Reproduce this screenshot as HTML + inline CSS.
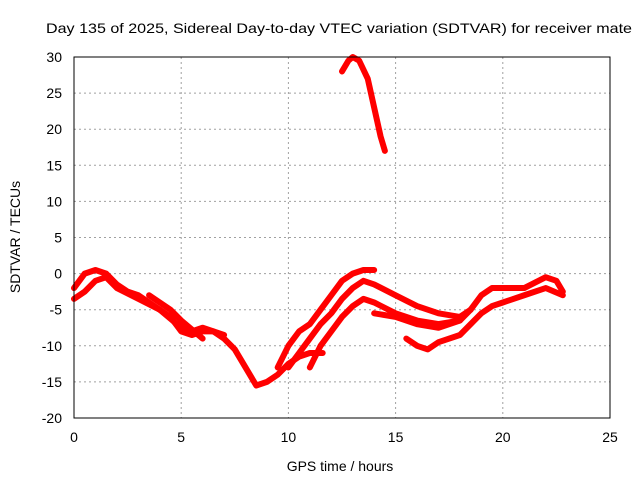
<!DOCTYPE html>
<html><head><meta charset="utf-8"><style>
body{margin:0;background:#fff;}
svg text{font-family:"Liberation Sans",sans-serif;font-size:14px;fill:#000;}
</style></head><body>
<svg id="chart" width="640" height="480">
<rect x="0" y="0" width="640" height="480" fill="#fff"/>
<g id="grid"></g>
<g id="series"></g>
<rect x="74" y="57" width="536" height="361" fill="none" stroke="#000" stroke-width="1"/>
<g id="ticks"></g>
<text x="46" y="33" textLength="586" lengthAdjust="spacingAndGlyphs">Day 135 of 2025, Sidereal Day-to-day VTEC variation (SDTVAR) for receiver mate</text>
<text x="340" y="471" text-anchor="middle">GPS time / hours</text>
<text transform="translate(20,237) rotate(-90)" text-anchor="middle">SDTVAR / TECUs</text>
</svg>
<script>
const xTicks=[0,5,10,15,20,25];
const yTicks=[-20,-15,-10,-5,0,5,10,15,20,25,30];
const trackA=[[0,-3.5],[0.5,-2.5],[1,-1],[1.5,-0.5],[2,-2],[3,-3.5],[4,-5],[4.5,-6],[5,-8],[5.5,-8.5],[6,-8],[6.5,-8],[7,-9],[7.5,-10.5],[8,-13],[8.5,-15.5],[9,-15],[9.5,-14],[10,-12.5],[10.5,-11.5],[11,-11],[11.6,-11]];
const trackB=[[0,-2],[0.5,0],[1,0.5],[1.5,0],[2,-1.5],[2.5,-2.5],[3,-3],[3.5,-4],[4,-5],[5,-7.5],[5.5,-8],[6,-7.5],[6.5,-8],[7,-8.5]];
const trackC=[[3.5,-3],[4.5,-5],[5,-6.5],[6,-9]];
const trackD=[[9.5,-13],[10,-10],[10.5,-8],[11,-7],[11.5,-5],[12,-3],[12.5,-1],[13,0],[13.5,0.5],[14,0.5]];
const trackE=[[10,-13],[10.5,-11],[11,-9],[11.5,-7],[12,-5.5],[12.5,-3.5],[13,-2],[13.5,-1],[14,-1.5],[15,-3],[16,-4.5],[17,-5.5],[18,-6],[18.5,-5]];
const trackF=[[11,-13],[11.5,-10],[12,-8],[12.5,-6],[13,-4.5],[13.5,-3.5],[14,-4],[15,-5.5],[16,-6.5],[17,-7],[18,-6.5],[18.5,-5],[19,-3],[19.5,-2],[20,-2],[21,-2],[22,-0.5],[22.5,-1],[22.8,-2.5]];
const trackG=[[14,-5.5],[15,-6],[16,-7],[17,-7.5],[18,-6.5]];
const trackH=[[15.5,-9],[16,-10],[16.5,-10.5],[17,-9.5],[18,-8.5],[18.5,-7],[19,-5.5],[19.5,-4.5],[20,-4],[21,-3],[22,-2],[22.8,-3]];
const trackTop=[[12.5,28],[12.8,29.5],[13,30],[13.3,29.5],[13.7,27],[14,23],[14.3,19],[14.5,17]];
const tracks=[trackA,trackB,trackC,trackD,trackE,trackF,trackG,trackH,trackTop];
const X=v=>74+v*(536/25), Y=v=>418-(v+20)*(361/50);
const NS='http://www.w3.org/2000/svg';
const grid=document.getElementById('grid'),ticks=document.getElementById('ticks'),ser=document.getElementById('series');
function mk(t,a,p){const e=document.createElementNS(NS,t);for(const k in a)e.setAttribute(k,a[k]);p.appendChild(e);return e;}
xTicks.forEach(v=>{
 if(v>0&&v<25){const l=mk('line',{x1:X(v),x2:X(v),y1:57,y2:418,stroke:'#a0a0a0','stroke-dasharray':'2,3'},grid);
 
 }
 const t=mk('text',{x:X(v),y:442,'text-anchor':'middle'},ticks);t.textContent=v;
 
 
});
yTicks.forEach(v=>{
 if(v>-20&&v<30){const l=mk('line',{x1:74,x2:610,y1:Y(v),y2:Y(v),stroke:'#a0a0a0','stroke-dasharray':'2,3'},grid);
 
 }
 const t=mk('text',{x:62,y:Y(v)+5,'text-anchor':'end'},ticks);t.textContent=v;
 
 
});
tracks.forEach(tr=>{
 const p=mk('polyline',{points:tr.map(d=>X(d[0])+','+Y(d[1])).join(' '),fill:'none',stroke:'#ff0000','stroke-width':6,'stroke-linejoin':'round','stroke-linecap':'round'},ser);
 
 
});
</script>
</body></html>
